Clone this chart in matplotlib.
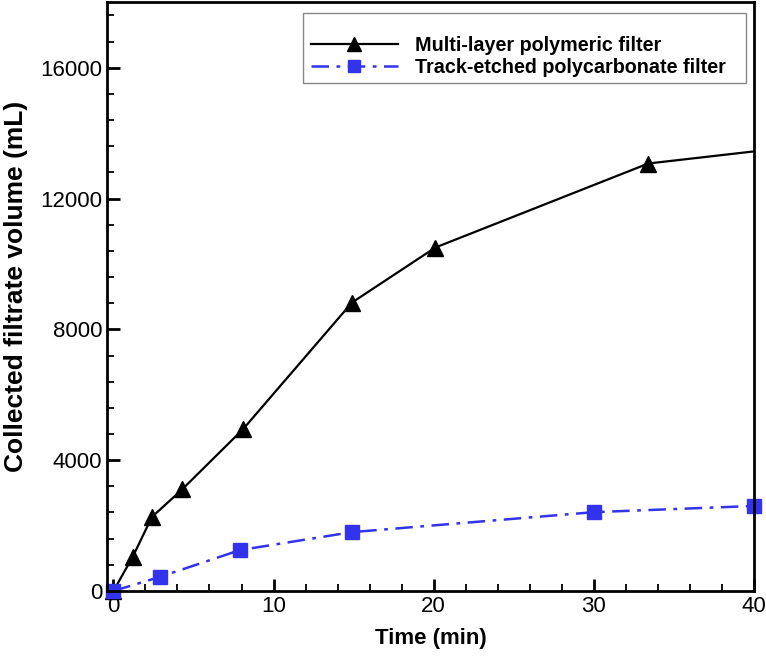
import matplotlib
matplotlib.use("Agg")
import matplotlib.pyplot as plt
from matplotlib.ticker import MultipleLocator
from matplotlib.patches import Rectangle

plt.rcParams['font.family'] = ['Liberation Sans', 'DejaVu Sans']

time_multi = [0, 1.2, 2.4, 4.3, 8.1, 14.9, 20.1, 33.4, 40]
vol_multi = [0, 1040, 2260, 3110, 4950, 8820, 10500, 13070, 13440]
time_track = [0, 2.9, 7.9, 14.9, 30, 40]
vol_track = [0, 430, 1250, 1800, 2410, 2600]
label_multi = "Multi-layer polymeric filter"
label_track = "Track-etched polycarbonate filter"

W, H = 766, 663
fig = plt.figure(figsize=(W / 100, H / 100), dpi=100)
ax = fig.add_axes([0.1397, 0.1086, 0.8446, 0.888])

ax.plot(time_multi, vol_multi, color='black', lw=1.6, marker='^', ms=12,
        markevery=list(range(len(time_multi) - 1)), label=label_multi, clip_on=False)
ax.plot(time_track, vol_track, color='#3333ee', lw=1.8, ls=(0, (7, 3, 1.5, 3)),
        marker='s', ms=10, label=label_track, clip_on=False)

ax.set_xlim(-0.4, 40)
ax.set_ylim(0, 18000)
ax.xaxis.set_major_locator(MultipleLocator(10))
ax.xaxis.set_minor_locator(MultipleLocator(2))
ax.yaxis.set_major_locator(MultipleLocator(4000))
ax.yaxis.set_minor_locator(MultipleLocator(800))
ax.tick_params(which='both', direction='in', top=False, right=False, labelsize=16, width=1.3)
ax.tick_params(which='major', length=9, width=2)
ax.tick_params(which='minor', length=5)
for s in ax.spines.values():
    s.set_linewidth(2)

ax.set_xlabel("Time (min)", fontsize=16, fontweight='bold', labelpad=8)
ax.set_ylabel("Collected filtrate volume (mL)", fontsize=19, fontweight='bold')
ax.yaxis.set_label_coords(-0.122, 0.518)

# legend frame
frame = Rectangle((303 / W, 1 - 83 / H), 443 / W, 70 / H,
                  transform=fig.transFigure, fill=True, facecolor='white',
                  edgecolor='#888888', lw=1.0, zorder=4, clip_on=False)
ax.add_artist(frame)
leg = ax.legend(loc='upper left', bbox_to_anchor=(294 / W, 1 - 19 / H),
                bbox_transform=fig.transFigure,
                prop={'weight': 'bold', 'size': 14.2}, frameon=False,
                handlelength=4.4, borderpad=0.35, labelspacing=0.14,
                handletextpad=0.9, markerscale=0.85)
leg.set_zorder(5)

fig.savefig("out.png", dpi=100)
